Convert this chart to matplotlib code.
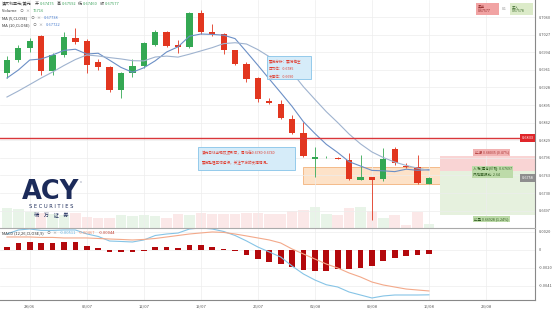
import matplotlib
matplotlib.use('Agg')
import matplotlib.pyplot as plt
from matplotlib.patches import Rectangle
import numpy as np

plt.rcParams['font.family'] = ['Noto Sans CJK SC', 'DejaVu Sans']

# ---------------- data ----------------
opens = [0.69550, 0.69794, 0.70019, 0.70244, 0.69588, 0.69888, 0.70206, 0.70150, 0.69756, 0.69663,
         0.69231, 0.69550, 0.69681, 0.70075, 0.70319, 0.70075, 0.70038, 0.70675, 0.70319, 0.70281,
         0.69981, 0.69719, 0.69456, 0.69025, 0.68969, 0.68688, 0.68425, 0.67947, 0.67975, 0.67956,
         0.67919, 0.67553, 0.67591, 0.67563, 0.68125, 0.67806, 0.67788, 0.67475]
highs = [0.69869, 0.70075, 0.70206, 0.70263, 0.69925, 0.70319, 0.70394, 0.70188, 0.69813, 0.69681,
         0.69569, 0.69813, 0.70131, 0.70356, 0.70338, 0.70169, 0.70694, 0.70731, 0.70469, 0.70300,
         0.69990, 0.69756, 0.69475, 0.69081, 0.69044, 0.68763, 0.68631, 0.68163, 0.67994, 0.67975,
         0.68050, 0.68013, 0.67600, 0.68144, 0.68163, 0.67863, 0.68013, 0.67592]
lows = [0.69456, 0.69756, 0.69944, 0.69513, 0.69513, 0.69850, 0.70094, 0.69550, 0.69606, 0.69194,
        0.69081, 0.69475, 0.69644, 0.70056, 0.70038, 0.69925, 0.70019, 0.70281, 0.70244, 0.69906,
        0.69700, 0.69381, 0.69006, 0.68969, 0.68688, 0.68406, 0.67975, 0.67600, 0.67956, 0.67938,
        0.67544, 0.67544, 0.66794, 0.67525, 0.67825, 0.67769, 0.67469, 0.67460]
closes = [0.69794, 0.70019, 0.70150, 0.69588, 0.69888, 0.70225, 0.70131, 0.69700, 0.69663, 0.69231,
          0.69550, 0.69681, 0.70113, 0.70319, 0.70056, 0.70038, 0.70675, 0.70319, 0.70281, 0.69981,
          0.69719, 0.69438, 0.69063, 0.68988, 0.68706, 0.68425, 0.67994, 0.67966, 0.67975, 0.67947,
          0.67563, 0.67591, 0.67553, 0.67938, 0.67863, 0.67788, 0.67488, 0.67577]
volumes = [380000, 361000, 304000, 285000, 266000, 247000, 285000, 209000, 190000, 190000,
           247000, 228000, 247000, 228000, 190000, 266000, 247000, 285000, 266000, 266000,
           266000, 285000, 285000, 266000, 266000, 323000, 342000, 399000, 266000, 247000,
           380000, 399000, 323000, 190000, 247000, 57000, 304000, 76716]
ma5 = [0.69456, 0.69606, 0.69794, 0.69813, 0.69888, 0.69974, 0.69996, 0.69906, 0.69921, 0.69790,
       0.69655, 0.69565, 0.69648, 0.69779, 0.69944, 0.70041, 0.70240, 0.70281, 0.70274, 0.70259,
       0.70195, 0.69948, 0.69696, 0.69438, 0.69183, 0.68924, 0.68635, 0.68416, 0.68213, 0.68059,
       0.67887, 0.67806, 0.67724, 0.67716, 0.67701, 0.67746, 0.67726, 0.67738]
ma10 = [0.69100, 0.69213, 0.69334, 0.69456, 0.69569, 0.69691, 0.69803, 0.69888, 0.69869, 0.69839,
        0.69814, 0.69781, 0.69777, 0.69850, 0.69867, 0.69848, 0.69903, 0.69964, 0.70026, 0.70101,
        0.70118, 0.70094, 0.69989, 0.69856, 0.69721, 0.69559, 0.69291, 0.69056, 0.68825, 0.68621,
        0.68405, 0.68221, 0.68070, 0.67965, 0.67880, 0.67817, 0.67766, 0.67722]
macd_dif = [0.00182, 0.00228, 0.00239, 0.00223, 0.00223, 0.00228, 0.00228, 0.00183, 0.00154, 0.00102,
            0.00097, 0.00091, 0.00114, 0.00165, 0.00182, 0.00193, 0.00239, 0.00251, 0.00239, 0.00211,
            0.00165, 0.00103, 0.00034, -0.00023, -0.00080, -0.00183, -0.00274, -0.00342, -0.00396, -0.00422,
            -0.00479, -0.00513, -0.00547, -0.00524, -0.00513, -0.00513, -0.00513, -0.00511]
macd_dea = [0.00148, 0.00148, 0.00148, 0.00143, 0.00143, 0.00137, 0.00137, 0.00137, 0.00131, 0.00125,
            0.00120, 0.00114, 0.00120, 0.00131, 0.00148, 0.00165, 0.00182, 0.00194, 0.00205, 0.00200,
            0.00182, 0.00160, 0.00137, 0.00114, 0.00080, 0.00011, -0.00046, -0.00103, -0.00160, -0.00205,
            -0.00262, -0.00308, -0.00365, -0.00399, -0.00422, -0.00445, -0.00456, -0.00467]
macd_hist = [0.00034, 0.00080, 0.00091, 0.00080, 0.00080, 0.00091, 0.00091, 0.00046, 0.00023, -0.00023,
             -0.00023, -0.00023, -0.00006, 0.00034, 0.00034, 0.00028, 0.00057, 0.00057, 0.00034, 0.00011,
             -0.00017, -0.00057, -0.00103, -0.00137, -0.00160, -0.00194, -0.00228, -0.00239, -0.00236, -0.00217,
             -0.00217, -0.00205, -0.00182, -0.00125, -0.00091, -0.00068, -0.00057, -0.00044]

date_labels = ['28/06', '05/07', '12/07', '19/07', '26/07', '02/08', '09/08', '16/08', '23/08']
date_label_pos = [2, 7, 12, 17, 22, 27, 32, 37, 42]
price_ticks = [0.7060, 0.7027, 0.6994, 0.6961, 0.6928, 0.6895, 0.6862, 0.6829, 0.6796, 0.6763, 0.6730, 0.6697]
macd_ticks = [0.00205, 0.0, -0.00205, -0.0041]
macd_tick_labels = ['0.0020', '0', '-0.0020', '-0.0041']

resistance = 0.6833
last_price = 0.67577
zone_low, zone_high = 0.67469, 0.67788
stop_price, entry_price, target_price = 0.67994, 0.67713, 0.66888

# ---------------- figure ----------------
W, H = 553, 311
fig = plt.figure(figsize=(W / 100, H / 100), dpi=100)
fig.patch.set_facecolor('white')

def fx(px):
    return px / W

def fy(py):
    return 1 - py / H

ax = fig.add_axes([0, fy(228), fx(535), 228 / H])
axm = fig.add_axes([0, fy(300), fx(535), 71 / H], sharex=ax)

xs = np.arange(len(closes))
XMIN, XMAX = -0.61, 46.3

# volume (behind)
axv = ax.twinx()
vcols = ['#e8f4e8' if c >= o else '#fbe8e8' for o, c in zip(opens, closes)]
axv.bar(xs, volumes, width=0.92, color=vcols, zorder=1)
axv.set_ylim(0, 4.33e6)
axv.set_yticks([])
for s in axv.spines.values():
    s.set_visible(False)
ax.set_zorder(axv.get_zorder() + 1)
ax.patch.set_visible(False)

GREEN = '#34a853'
RED = '#e2361f'

# zones
ax.add_patch(Rectangle((25.96, zone_low), 40.0 - 25.96, zone_high - zone_low,
                       fc='#fde2c8', ec='#f3b27c', lw=0.6, zorder=1))
ax.add_patch(Rectangle((38.0, entry_price), XMAX - 38.0, stop_price - entry_price,
                       fc='#f9d4d4', ec='none', zorder=1))
ax.add_patch(Rectangle((38.0, target_price), XMAX - 38.0, entry_price - target_price,
                       fc='#e6f1de', ec='none', zorder=1))

# candles
for i in xs:
    o, h, l, c = opens[i], highs[i], lows[i], closes[i]
    col = GREEN if c >= o else RED
    ax.vlines(i, l, h, color=col, lw=0.6, zorder=3)
    body = max(abs(c - o), 0.00007)
    ax.bar(i, body, bottom=min(o, c), width=0.55, color=col, zorder=4)

ax.plot(xs, ma5, color='#6b8fc6', lw=0.8, zorder=5)
ax.plot(xs, ma10, color='#9fb3cf', lw=0.8, zorder=5)

ax.axhline(resistance, color='#d9363a', lw=1.0, zorder=6)

ax.set_xlim(XMIN, XMAX)
ax.set_ylim(0.66644, 0.70919)
ax.yaxis.tick_right()
ax.set_yticks(price_ticks)
ax.set_yticklabels(['%.4f' % v for v in price_ticks])
ax.tick_params(axis='y', length=0, labelsize=2.8, colors='#555555', pad=3)
ax.set_xticks(date_label_pos)
ax.tick_params(axis='x', length=0, labelbottom=False)
ax.grid(True, color='#ededed', lw=0.5, zorder=0)
for s in ['top', 'left']:
    ax.spines[s].set_visible(False)
ax.spines['right'].set_color('#888888')
ax.spines['right'].set_linewidth(0.8)
ax.spines['bottom'].set_color('#aaaaaa')
ax.spines['bottom'].set_linewidth(0.8)

# price labels on right edge
ax.text(46.15, resistance, '0.6833', ha='right', va='center', fontsize=2.8, color='white',
        bbox=dict(boxstyle='square,pad=0.45', fc='#e0262a', ec='none'), zorder=8)
ax.text(46.15, last_price, '0.6758', ha='right', va='center', fontsize=2.8, color='white',
        bbox=dict(boxstyle='square,pad=0.45', fc='#8e8e8e', ec='none'), zorder=8)

# risk/reward labels
ax.text(42.5, 0.68059, '止损 0.68035 (0.47%)', ha='center', va='center', fontsize=2.6, color='#a33',
        bbox=dict(boxstyle='square,pad=0.3', fc='#f2b2b2', ec='none'), zorder=8)
ax.text(40.9, 0.67694, '入场(建仓)价格: 0.67697\n风险回报比: 2.64', ha='left', va='center',
        fontsize=2.6, color='#2f5b1f', linespacing=1.3,
        bbox=dict(boxstyle='square,pad=0.3', fc='#bddba9', ec='none'), zorder=8)
ax.text(42.5, 0.66813, '止盈 0.66928 (1.24%)', ha='center', va='center', fontsize=2.6, color='#2f5b1f',
        bbox=dict(boxstyle='square,pad=0.3', fc='#bddba9', ec='none'), zorder=8)

# annotation box 1
ax.add_patch(Rectangle((22.8, 0.69438), 3.9, 0.00431, fc='#d6ecf9', ec='#86c3e8', lw=0.6, zorder=7))
for yy, tt in zip([0.69756, 0.69625, 0.69494], ['震荡分析：震荡偏空', '压力位：0.6785', '支撑位：0.6690']):
    ax.text(23.0, yy, tt, fontsize=2.6, color='#e0392b', va='center', ha='left', zorder=8)

# annotation box 2
ax.add_patch(Rectangle((16.75, 0.67731), 8.5, 0.00432, fc='#d6ecf9', ec='#86c3e8', lw=0.6, zorder=7))
ax.text(17.1, 0.68050, '澳元日线出现双顶形态，周线在0.6780-0.6740', fontsize=2.6, color='#e0392b',
        va='center', ha='left', zorder=8)
ax.text(17.1, 0.67863, '震荡整理区域运行，关注下方的支撑情况。', fontsize=2.6, color='#e0392b',
        va='center', ha='left', zorder=8)

# ---------------- MACD ----------------
axm.bar(xs, macd_hist, width=0.5, color='#b3080c', zorder=3)
axm.plot(xs, macd_dif, color='#86c4e6', lw=0.8, zorder=4)
axm.plot(xs, macd_dea, color='#f3a98a', lw=0.8, zorder=4)
axm.set_ylim(-0.0057, 0.00239)
axm.yaxis.tick_right()
axm.set_yticks(macd_ticks)
axm.set_yticklabels(macd_tick_labels)
axm.tick_params(axis='y', length=0, labelsize=2.8, colors='#555555', pad=3)
axm.set_xticks(date_label_pos)
axm.set_xticklabels(date_labels)
axm.tick_params(axis='x', length=0, labelsize=3, colors='#555555', pad=3)
axm.grid(True, color='#ededed', lw=0.5, zorder=0)
axm.set_xlim(XMIN, XMAX)
for s in ['top', 'left']:
    axm.spines[s].set_visible(False)
axm.spines['right'].set_color('#888888')
axm.spines['right'].set_linewidth(0.8)
axm.spines['bottom'].set_color('#888888')
axm.spines['bottom'].set_linewidth(0.8)

# ---------------- header texts (laid out sequentially) ----------------
renderer = fig.canvas.get_renderer()
FS = 2.9
VAL = '#3da35d'
BLUE = '#4a7fd0'
GREY = '#777777'

def seq(x0, y, segs, fs=FS):
    x = x0
    for s, col, gap in segs:
        tx = fig.text(fx(x), fy(y), s, fontsize=fs, color=col, va='center', ha='left')
        w = tx.get_window_extent(renderer).width
        x += w + gap

seq(2, 4, [('澳大利亚元/美元', '#333', 3), ('开', '#333', 1), ('0.67475', VAL, 2),
           ('高', '#333', 1), ('0.67592', VAL, 2), ('低', '#333', 1), ('0.67460', VAL, 2),
           ('收', '#333', 1), ('0.67577', VAL, 0)])
seq(2, 11, [('Volume', '#333', 3), ('⊙', GREY, 2), ('×', GREY, 3), ('76716', VAL, 0)])
seq(2, 18, [('MA (5,CLOSE)', '#333', 3), ('⊙', GREY, 2), ('×', GREY, 3), ('0.67738', BLUE, 0)])
seq(2, 25, [('MA (10,CLOSE)', '#333', 3), ('⊙', GREY, 2), ('×', GREY, 3), ('0.67722', BLUE, 0)])
seq(2, 233, [('MACD (12,26,CLOSE,9)', '#333', 3), ('⊙', GREY, 2), ('×', GREY, 3),
             ('-0.00511', '#5fb0e0', 3), ('-0.00467', '#f08a6a', 3), ('-0.00044', '#c0392b', 0)])

# top-right widget
fig.patches.append(Rectangle((fx(476), fy(15)), fx(23), 12 / H, transform=fig.transFigure,
                             fc='#f1a3a3', ec='none'))
fig.patches.append(Rectangle((fx(510), fy(15)), fx(23), 12 / H, transform=fig.transFigure,
                             fc='#dcebc9', ec='none'))
fig.text(fx(478), fy(9), '卖出\n0.67577', fontsize=2.6, color='#8a2020', va='center', ha='left', linespacing=1.2)
fig.text(fx(504.5), fy(9), '0.1', fontsize=2.6, color='#888', va='center', ha='center')
fig.text(fx(512), fy(9), '买入\n0.67578', fontsize=2.6, color='#3c6a2a', va='center', ha='left', linespacing=1.2)

# logo
fig.text(fx(51), fy(192), 'ACY', fontsize=18.5, color='#1c2b5a', fontweight='bold',
         family=['DejaVu Sans'], ha='center', va='center')
fig.text(fx(81), fy(183), '®', fontsize=3, color='#1c2b5a', ha='center', va='center')
fig.text(fx(51.5), fy(207), 'S E C U R I T I E S', fontsize=3.7, color='#1c2b5a',
         ha='center', va='center', family=['DejaVu Sans'])
fig.text(fx(51.5), fy(215), '稀    万    证    券', fontsize=3.8, color='#1c2b5a', ha='center', va='center')

fig.savefig('out.png', dpi=100, facecolor='white')
